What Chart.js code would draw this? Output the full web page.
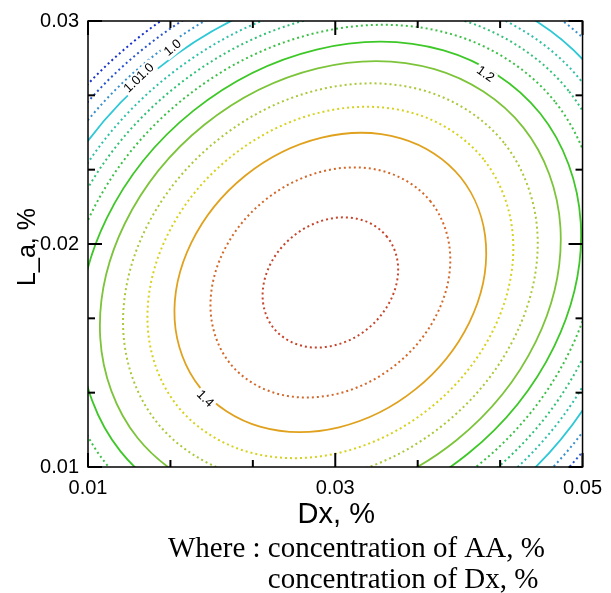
<!DOCTYPE html>
<html>
<head>
<meta charset="utf-8">
<title>Contour plot</title>
<script src="https://cdn.jsdelivr.net/npm/chart.js@4.4.1/dist/chart.umd.min.js"></script>
<style>
  html, body { margin: 0; padding: 0; background: #ffffff; }
  #wrap { width: 611px; height: 593px; }
</style>
</head>
<body>
<div id="wrap"><canvas id="contourChart" width="611" height="593"></canvas></div>
<script>
// Axis ticks (Dx on x, L_a on y)
const xTicks = [0.01, 0.016667, 0.023333, 0.03, 0.036667, 0.043333, 0.05];
const xTickLabels = ['0.01', '', '', '0.03', '', '', '0.05'];
const yTicks = [0.01, 0.013333, 0.016667, 0.02, 0.023333, 0.026667, 0.03];
const yTickLabels = ['0.01', '', '', '0.02', '', '', '0.03'];

// Contour levels, innermost first
const levels = [1.5, 1.45, 1.4, 1.35, 1.3, 1.25, 1.2, 1.15, 1.1, 1.05, 1.0, 0.95, 0.9, 0.85];

// Points [Dx, L_a]
const c150 = [[0.03419,0.02032],[0.03208,0.02109],[0.02930,0.02110],[0.02660,0.02035],[0.02471,0.01905],[0.02413,0.01754],[0.02501,0.01623],[0.02713,0.01546],[0.02990,0.01545],[0.03260,0.01619],[0.03449,0.01750],[0.03508,0.01901]];
const c145 = [[0.03772,0.02190],[0.03398,0.02325],[0.02907,0.02327],[0.02430,0.02196],[0.02095,0.01965],[0.01992,0.01698],[0.02148,0.01465],[0.02522,0.01330],[0.03014,0.01328],[0.03491,0.01459],[0.03826,0.01690],[0.03929,0.01957]];
const c140 = [[0.04015,0.02298],[0.03530,0.02474],[0.02891,0.02477],[0.02271,0.02306],[0.01836,0.02006],[0.01701,0.01659],[0.01905,0.01357],[0.02391,0.01181],[0.03030,0.01178],[0.03650,0.01349],[0.04085,0.01649],[0.04219,0.01996]];
const c135 = [[0.04199,0.02380],[0.03629,0.02587],[0.02879,0.02590],[0.02151,0.02389],[0.01640,0.02037],[0.01483,0.01630],[0.01721,0.01275],[0.02292,0.01068],[0.03042,0.01065],[0.03770,0.01266],[0.04281,0.01618],[0.04438,0.02025]];
const c130 = [[0.04364,0.02454],[0.03718,0.02688],[0.02868,0.02692],[0.02043,0.02464],[0.01464,0.02065],[0.01286,0.01603],[0.01556,0.01201],[0.02203,0.00967],[0.03053,0.00963],[0.03878,0.01191],[0.04457,0.01590],[0.04635,0.02051]];
const c125 = [[0.04520,0.02523],[0.03802,0.02784],[0.02858,0.02788],[0.01941,0.02535],[0.01298,0.02092],[0.01099,0.01579],[0.01400,0.01131],[0.02119,0.00871],[0.03063,0.00867],[0.03980,0.01120],[0.04623,0.01563],[0.04821,0.02076]];
const c120 = [[0.04658,0.02585],[0.03876,0.02868],[0.02849,0.02872],[0.01851,0.02597],[0.01151,0.02115],[0.00935,0.01557],[0.01263,0.01070],[0.02044,0.00787],[0.03072,0.00783],[0.04070,0.01058],[0.04770,0.01540],[0.04985,0.02098]];
const c115 = [[0.04777,0.02638],[0.03940,0.02941],[0.02841,0.02946],[0.01773,0.02651],[0.01024,0.02135],[0.00793,0.01538],[0.01143,0.01017],[0.01980,0.00714],[0.03080,0.00709],[0.04147,0.01004],[0.04897,0.01520],[0.05128,0.02117]];
const c110 = [[0.04887,0.02687],[0.04000,0.03008],[0.02833,0.03014],[0.01701,0.02701],[0.00906,0.02154],[0.00662,0.01520],[0.01033,0.00968],[0.01921,0.00646],[0.03087,0.00641],[0.04219,0.00954],[0.05014,0.01501],[0.05259,0.02135]];
const c105 = [[0.04988,0.02732],[0.04054,0.03070],[0.02827,0.03076],[0.01635,0.02747],[0.00799,0.02171],[0.00541,0.01504],[0.00932,0.00923],[0.01866,0.00585],[0.03094,0.00579],[0.04285,0.00908],[0.05122,0.01484],[0.05379,0.02151]];
const c100 = [[0.05084,0.02775],[0.04106,0.03129],[0.02820,0.03135],[0.01572,0.02790],[0.00696,0.02187],[0.00426,0.01489],[0.00836,0.00880],[0.01814,0.00525],[0.03100,0.00520],[0.04348,0.00864],[0.05224,0.01468],[0.05494,0.02166]];
const c095 = [[0.05181,0.02818],[0.04158,0.03188],[0.02814,0.03194],[0.01509,0.02834],[0.00593,0.02204],[0.00311,0.01473],[0.00740,0.00837],[0.01762,0.00466],[0.03106,0.00461],[0.04411,0.00821],[0.05327,0.01451],[0.05609,0.02182]];
const c090 = [[0.05273,0.02859],[0.04208,0.03245],[0.02808,0.03251],[0.01449,0.02876],[0.00496,0.02219],[0.00202,0.01459],[0.00648,0.00796],[0.01713,0.00410],[0.03112,0.00404],[0.04471,0.00779],[0.05425,0.01436],[0.05719,0.02196]];
const c085 = [[0.05364,0.02900],[0.04257,0.03301],[0.02802,0.03307],[0.01389,0.02917],[0.00398,0.02235],[0.00092,0.01444],[0.00556,0.00755],[0.01663,0.00354],[0.03118,0.00348],[0.04531,0.00738],[0.05523,0.01420],[0.05828,0.02211]];

const contours = [c150, c145, c140, c135, c130, c125, c120, c115, c110, c105, c100, c095, c090, c085];

// Line colours and styles, same order as levels
const lineColors = ['#c4452b', '#d2692a', '#e0a21e', '#d6d21e', '#a9c83a', '#7cc43a', '#3ec828',
                    '#3ec048', '#34c078', '#30bfa8', '#2ec8d6', '#3a90cc', '#2a56d0', '#1a32c8'];
const isDotted = [true, true, false, true, true, false, false, true, true, true, false, true, true, true];

// Contour labels
const labelText = ['1.01.0', '1.0', '1.2', '1.4'];
const labelX = [0.014135, 0.016863, 0.042127, 0.019463];
const labelY = [0.027434, 0.028792, 0.027611, 0.013052];
const labelAngle = [-44, -40, 35, 45];

const DOTS = [2, 3];
const SANS = '"Liberation Sans", Arial, sans-serif';
const SERIF = '"Liberation Serif", "Times New Roman", serif';

Chart.defaults.font.family = SANS;
Chart.defaults.color = '#000';

const datasets = contours.map((pts, i) => ({
    label: levels[i].toFixed(2),
    data: pts.map(p => ({ x: p[0], y: p[1] })),
    showLine: true,
    fill: false,
    borderColor: lineColors[i],
    borderWidth: isDotted[i] ? 2 : 1.8,
    borderDash: isDotted[i] ? DOTS : [],
    pointRadius: 0,
    pointHoverRadius: 0,
    tension: 0.35,
    capBezierPoints: false
}));

// Contours are closed curves: join the last point back to the first
const closeLoops = {
    id: 'closeLoops',
    afterDatasetUpdate(chart, args) {
        const line = args.meta.dataset;
        if (line) {
            line._loop = true;
            line._fullLoop = true;
        }
    }
};

function strokeLine(ctx, x1, y1, x2, y2) {
    ctx.beginPath();
    ctx.moveTo(x1, y1);
    ctx.lineTo(x2, y2);
    ctx.stroke();
}

// Frame, inward ticks, labels, titles and caption
const decorations = {
    id: 'decorations',
    afterDatasetsDraw(chart) {
        const ctx = chart.ctx;
        const xs = chart.scales.x;
        const ys = chart.scales.y;
        ctx.save();
        ctx.font = '13px ' + SANS;
        labelText.forEach((t, i) => {
            const px = xs.getPixelForValue(labelX[i]);
            const py = ys.getPixelForValue(labelY[i]);
            ctx.save();
            ctx.translate(px, py);
            ctx.rotate(labelAngle[i] * Math.PI / 180);
            const w = ctx.measureText(t).width;
            ctx.fillStyle = '#fff';
            ctx.fillRect(-w / 2 - 2, -7, w + 4, 14);
            ctx.fillStyle = '#000';
            ctx.textAlign = 'center';
            ctx.textBaseline = 'middle';
            ctx.fillText(t, 0, 0);
            ctx.restore();
        });
        ctx.restore();
    },
    afterDraw(chart) {
        const ctx = chart.ctx;
        const xs = chart.scales.x;
        const ys = chart.scales.y;
        const { left, right, top, bottom } = chart.chartArea;
        ctx.save();
        ctx.strokeStyle = '#000';
        ctx.lineWidth = 1.5;
        ctx.strokeRect(left, top, right - left, bottom - top);

        ctx.lineWidth = 2;
        xTicks.forEach((v, i) => {
            const px = xs.getPixelForValue(v);
            const len = xTickLabels[i] ? 14 : 7;
            strokeLine(ctx, px, bottom, px, bottom - len);
            strokeLine(ctx, px, top, px, top + len);
        });
        yTicks.forEach((v, i) => {
            const py = ys.getPixelForValue(v);
            const len = yTickLabels[i] ? 14 : 7;
            strokeLine(ctx, left, py, left + len, py);
            strokeLine(ctx, right, py, right - len, py);
        });

        // axis titles
        ctx.fillStyle = '#000';
        ctx.font = '29px ' + SANS;
        ctx.textAlign = 'center';
        ctx.textBaseline = 'alphabetic';
        ctx.fillText('Dx, %', (left + right) / 2 + 1, bottom + 56);
        ctx.save();
        ctx.font = '25px ' + SANS;
        ctx.translate(35, (top + bottom) / 2 + 3);
        ctx.rotate(-Math.PI / 2);
        ctx.fillText('L_a, %', 0, 0);
        ctx.restore();

        // caption
        ctx.font = '29px ' + SERIF;
        ctx.textAlign = 'left';
        const lead = 'Where : ';
        ctx.fillText(lead + 'concentration of AA, %', 168, bottom + 90);
        ctx.fillText('concentration of Dx, %', 168 + ctx.measureText(lead).width, bottom + 121);
        ctx.restore();
    }
};

new Chart(document.getElementById('contourChart'), {
    type: 'scatter',
    data: { datasets },
    options: {
        responsive: false,
        animation: false,
        devicePixelRatio: 1,
        layout: { padding: { top: 15, right: 20, left: 0, bottom: 0 } },
        plugins: {
            legend: { display: false },
            tooltip: { enabled: false }
        },
        scales: {
            x: {
                type: 'linear',
                min: 0.01,
                max: 0.05,
                afterBuildTicks: s => { s.ticks = xTicks.map(v => ({ value: v })); },
                afterFit: s => { s.height = 126; },
                ticks: {
                    callback: (v, i) => xTickLabels[i],
                    font: { size: 20 },
                    color: '#000',
                    padding: 9,
                    maxRotation: 0,
                    autoSkip: false
                },
                grid: { display: false, drawTicks: false },
                border: { display: false }
            },
            y: {
                type: 'linear',
                min: 0.01,
                max: 0.03,
                afterBuildTicks: s => { s.ticks = yTicks.map(v => ({ value: v })); },
                afterFit: s => { s.width = 88; },
                ticks: {
                    callback: (v, i) => yTickLabels[i],
                    font: { size: 20 },
                    color: '#000',
                    padding: 9,
                    autoSkip: false
                },
                grid: { display: false, drawTicks: false },
                border: { display: false }
            }
        }
    },
    plugins: [closeLoops, decorations]
});
</script>
</body>
</html>
